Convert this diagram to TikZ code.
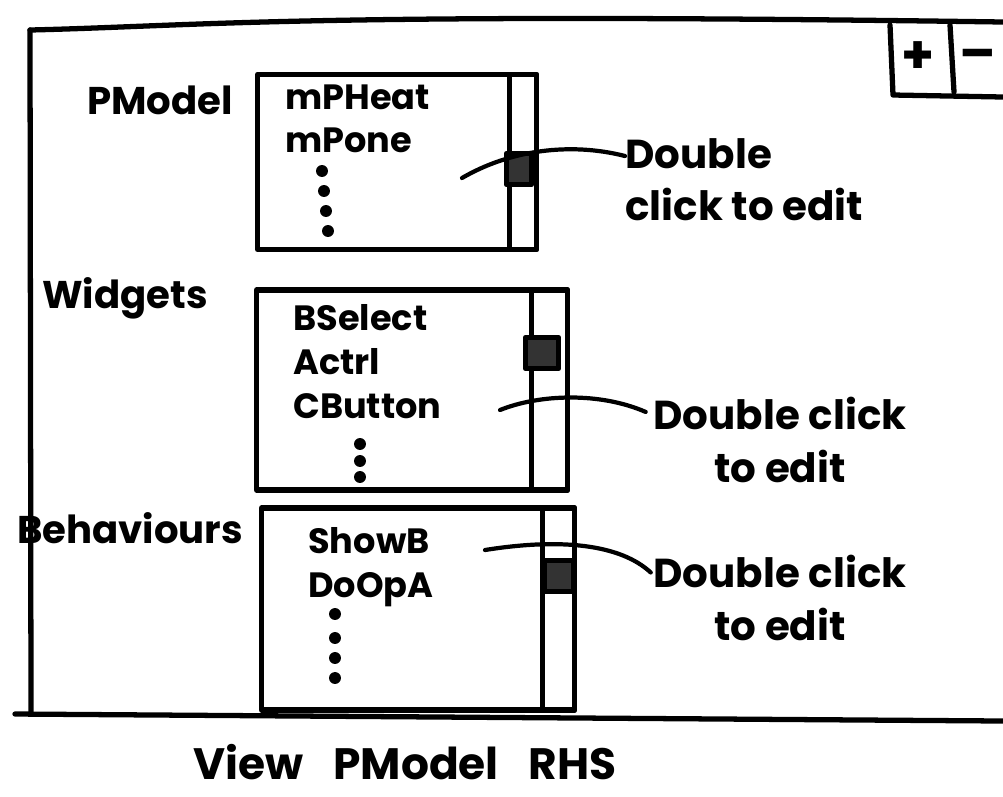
\documentclass[tikz,border=0pt]{standalone}
\usepackage{fontspec}
\setmainfont{Poppins}
\begin{document}
\begin{tikzpicture}
[x=0.02cm, y=-0.02cm,
ink/.style={line width=3pt, line cap=round, line join=round},
every node/.style={font=\fontsize{20}{25}\selectfont\bfseries},
listbox/.style={ink, draw, inner sep=0pt},
scroll/.style={ink, draw, inner sep=0pt, anchor=north east},
thumb/.style={ink, draw, fill=black!80, inner sep=0pt, minimum height=0.62cm},
item/.style={anchor=north west, align=left, inner sep=0pt},
note/.style={inner sep=0pt, font=\fontsize{23}{30}\selectfont\bfseries},
connector/.style={ink, line width=2.4pt}]

\useasboundingbox (0,0) rectangle (1003,796);

% outer window
\draw[ink] (30,30) .. controls (200,26) and (300,12) .. (1003,22);
\draw[ink] (30,30) -- (31,712);
\draw[ink] (15,714) -- (1003,721);

% + / - buttons
\draw[ink] (890,25) -- (893,95) -- (1003,97);
\draw[ink] (950,25) -- (954,92);
\node[font=\fontsize{30}{30}\selectfont\bfseries] (plus) at (918,58) {+};
\node[font=\fontsize{30}{30}\selectfont\bfseries] (minus) at (978,60) {--};

% PModel list
\node[font=\fontsize{22}{25}\selectfont\bfseries] (pmlabel) at (160,100) {PModel};
\node[listbox, minimum width=5.58cm, minimum height=3.5cm] (pmbox) at (397,162) {};
\node[scroll, minimum width=0.54cm, minimum height=3.5cm] (pmscroll) at (pmbox.north east) {};
\node[thumb, minimum width=0.5cm] (pmthumb) at (519,169) {};
\node[item] (pmitems) at (285,84) {mPHeat\\mPone};
\foreach \y [count=\i] in {171,191,211,231}
  \fill (320+\i*2,\y) circle (3.4pt);
\node[note, align=left, anchor=north west] (pmnote) at (625,138) {Double\\click to edit};
\coordinate (pmtip) at (462,178);
\draw[connector] (pmtip) .. controls (510,150) and (570,142) .. ([yshift=-0.36cm]pmnote.north west);

% Widgets list
\node[font=\fontsize{22}{25}\selectfont\bfseries] (wdlabel) at (125,298) {Widgets};
\node[listbox, minimum width=6.22cm, minimum height=4cm] (wdbox) at (412,390) {};
\node[scroll, minimum width=0.72cm, minimum height=4cm] (wdscroll) at (wdbox.north east) {};
\node[thumb, minimum width=0.66cm] (wdthumb) at (542,353) {};
\node[item] (wditems) at (293,304) {BSelect\\Actrl\\CButton};
\foreach \y in {444,461,477}
  \fill (360,\y) circle (3.4pt);
\node[note, align=center] (wdnote) at (780,440) {Double click\\to edit};
\coordinate (wdtip) at (500,410);
\draw[connector] (wdtip) .. controls (540,394) and (600,392) .. ([xshift=-0.15cm,yshift=-0.3cm]wdnote.north west);

% Behaviours list
\node[font=\fontsize{22}{25}\selectfont\bfseries] (bhlabel) at (130,528) {Behaviours};
\node[listbox, minimum width=6.26cm, minimum height=4.04cm] (bhbox) at (418,609) {};
\node[scroll, minimum width=0.64cm, minimum height=4.04cm] (bhscroll) at (bhbox.north east) {};
\node[thumb, minimum width=0.58cm] (bhthumb) at (559,576) {};
\node[item] (bhitems) at (308,527) {ShowB\\DoOpA};
\foreach \y in {614,638,658,678}
  \fill (335,\y) circle (3.4pt);
\node[note, align=center] (bhnote) at (780,598) {Double click\\to edit};
\coordinate (bhtip) at (485,550);
\draw[connector] (bhtip) .. controls (560,538) and (620,544) .. ([xshift=-0.05cm,yshift=-0.35cm]bhnote.north west);

% caption
\node[font=\fontsize{25}{28}\selectfont\bfseries] (caption) at (405,762) {View\hspace{0.6cm}PModel\hspace{0.6cm}RHS};
\end{tikzpicture}
\end{document}
